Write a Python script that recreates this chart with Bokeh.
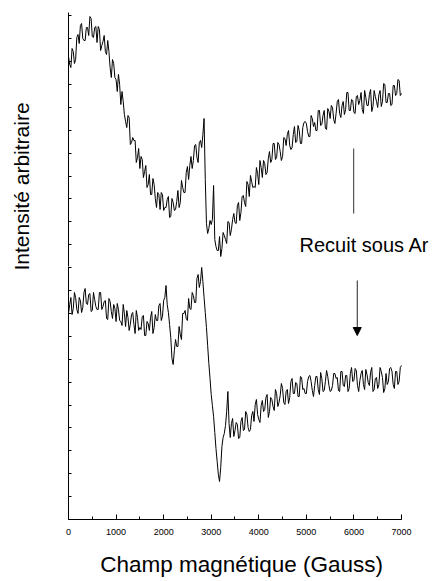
from bokeh.plotting import figure
from bokeh.models import (Label, Arrow, NormalHead, ColumnDataSource, FixedTicker, Range1d,
                          Title, LinearAxis)
from bokeh.embed import file_html
from bokeh.resources import INLINE

# Magnetic field (Gauss): samples on the 50 G grid and in between (25 G offset)
field_a = list(range(0, 7001, 50))
field_b = list(range(25, 7000, 50))

# Upper spectrum (arbitrary intensity units)
upper_a = [463, 452, 468, 460, 485, 494, 481, 479, 492, 503,
           483, 492, 477, 490, 474, 484, 465, 468, 442, 456,
           440, 445, 415, 418, 398, 404, 375, 382, 379, 362,
           351, 360, 348, 332, 345, 325, 335, 312, 325, 327,
           309, 312, 323, 303, 317, 310, 329, 317, 332, 327,
           353, 354, 351, 374, 362, 377, 372, 401, 296, 291,
           295, 334, 273, 269, 263, 287, 280, 298, 284, 300,
           297, 314, 299, 323, 317, 338, 323, 338, 333, 352,
           335, 352, 359, 345, 361, 357, 376, 360, 377, 368,
           363, 381, 385, 374, 372, 393, 378, 389, 376, 397,
           396, 383, 404, 393, 389, 409, 394, 404, 391, 411,
           401, 412, 396, 418, 406, 414, 405, 427, 409, 420,
           407, 423, 415, 427, 406, 422, 414, 430, 413, 423,
           412, 429, 418, 435, 417, 426, 415, 434, 426, 439,
           426]
upper_b = [455, 471, 456, 482, 476, 496, 479, 492, 484, 501,
           482, 493, 493, 469, 478, 468, 479, 452, 460, 442,
           428, 435, 428, 405, 392, 402, 377, 379, 357, 371,
           363, 342, 354, 335, 325, 341, 321, 327, 310, 325,
           312, 320, 302, 321, 309, 318, 312, 339, 327, 347,
           340, 363, 359, 375, 357, 379, 385, 340, 286, 299,
           300, 280, 269, 283, 271, 284, 276, 297, 290, 306,
           296, 317, 307, 324, 313, 335, 344, 332, 332, 346,
           359, 342, 356, 347, 368, 360, 376, 362, 375, 359,
           382, 374, 389, 370, 385, 377, 394, 376, 392, 398,
           388, 383, 401, 397, 389, 409, 395, 409, 390, 408,
           414, 400, 406, 420, 402, 418, 410, 427, 409, 419,
           406, 424, 419, 410, 429, 414, 425, 408, 429, 418,
           425, 413, 436, 417, 426, 414, 434, 424, 440, 424]

# Lower spectrum (after annealing under Ar)
lower_a = [206, 222, 211, 222, 206, 219, 212, 231, 215, 226,
           209, 220, 210, 227, 210, 218, 201, 221, 208, 215,
           198, 210, 198, 215, 193, 202, 195, 207, 186, 202,
           192, 203, 184, 198, 189, 208, 192, 199, 214, 199,
           219, 234, 207, 182, 155, 180, 173, 185, 206, 209,
           199, 211, 227, 217, 241, 232, 252, 222, 192, 156,
           125, 103, 71, 45, 52, 82, 94, 128, 82, 101,
           89, 95, 82, 102, 90, 105, 88, 104, 98, 120,
           100, 114, 108, 122, 102, 122, 113, 130, 113, 124,
           131, 115, 130, 122, 141, 126, 136, 123, 142, 131,
           126, 143, 138, 123, 143, 130, 147, 128, 138, 143,
           128, 134, 146, 142, 128, 148, 133, 144, 131, 152,
           139, 149, 128, 146, 135, 150, 137, 147, 128, 141,
           131, 152, 142, 131, 135, 151, 148, 131, 148, 138,
           154]
lower_b = [215, 205, 227, 210, 222, 207, 227, 216, 225, 208,
           227, 213, 210, 227, 213, 219, 200, 218, 201, 211,
           216, 199, 194, 206, 209, 189, 205, 195, 209, 189,
           190, 204, 184, 196, 202, 186, 205, 199, 216, 203,
           222, 215, 195, 161, 169, 173, 193, 180, 206, 201,
           221, 210, 224, 217, 245, 238, 238, 207, 174, 141,
           114, 87, 58, 38, 73, 86, 108, 96, 96, 83,
           97, 81, 98, 89, 108, 92, 90, 108, 115, 105,
           97, 119, 110, 125, 108, 120, 109, 126, 117, 136,
           117, 128, 116, 138, 126, 137, 123, 143, 130, 126,
           138, 144, 129, 134, 143, 125, 141, 129, 149, 134,
           129, 146, 141, 129, 148, 134, 144, 128, 146, 138,
           151, 134, 139, 149, 130, 145, 134, 152, 130, 142,
           135, 148, 127, 146, 138, 152, 135, 148, 135, 152]

x_ticks = [0, 1000, 2000, 3000, 4000, 5000, 6000, 7000]
annotation_text = "Recuit sous Ar"


def merge(xa, ya, xb, yb):
    pts = sorted(list(zip(xa, ya)) + list(zip(xb, yb)))
    return [q[0] for q in pts], [q[1] for q in pts]


fx_u, fy_u = merge(field_a, upper_a, field_b, upper_b)
fx_l, fy_l = merge(field_a, lower_a, field_b, lower_b)

FONT = "Liberation Sans"

p = figure(frame_width=365, frame_height=507, output_backend="svg", toolbar_location=None,
           x_range=Range1d(0, 7672.7), y_range=Range1d(0, 507),
           min_border_left=68, min_border_right=0, min_border_top=12, min_border_bottom=54)
p.outline_line_color = None
p.xgrid.visible = False
p.ygrid.visible = False
p.background_fill_color = "white"
p.border_fill_color = "white"

p.line(fx_u, fy_u, line_color="black", line_width=1)
p.line(fx_l, fy_l, line_color="black", line_width=1)

# x axis
p.xaxis.bounds = (0, 7000)
p.xaxis.ticker = FixedTicker(ticks=x_ticks, minor_ticks=[500 * k for k in range(15)])
p.xaxis.axis_line_color = "black"
p.xaxis.major_tick_in = 5
p.xaxis.major_tick_out = 0
p.xaxis.minor_tick_in = 3
p.xaxis.minor_tick_out = 0
p.xaxis.major_label_text_font = FONT
p.xaxis.major_label_text_font_size = "9px"
p.xaxis.major_label_text_color = "black"
p.xaxis.major_label_standoff = 9
# trailing no-break spaces shift the centred label a little to the left
p.xaxis.axis_label = "Champ magnétique (Gauss)\u00a0\u00a0\u00a0"
p.xaxis.axis_label_text_font = FONT
p.xaxis.axis_label_text_font_style = "normal"
p.xaxis.axis_label_text_font_size = "22.5px"
p.xaxis.axis_label_text_color = "black"
p.xaxis.axis_label_standoff = 14

# y axis: inward ticks, no labels
y_tick_pos = [round(22.9 * k, 1) for k in range(1, 23)]
p.yaxis.ticker = FixedTicker(ticks=y_tick_pos, minor_ticks=[])
p.yaxis.axis_line_color = "black"
p.yaxis.major_tick_in = 3
p.yaxis.major_tick_out = 0
p.yaxis.major_label_overrides = {t: "" for t in y_tick_pos}
p.yaxis.minor_tick_line_color = None

# blank spacer axis (white tick on white) keeping the y title away from the frame
spacer_tick = [253.5]
spacer = LinearAxis(ticker=FixedTicker(ticks=spacer_tick, minor_ticks=[]),
                    axis_line_color=None, major_tick_in=0, major_tick_out=36,
                    major_tick_line_color="white", minor_tick_line_color=None,
                    major_label_standoff=0, major_label_overrides={spacer_tick[0]: ""})
p.add_layout(spacer, "left")

# y label as a left title, anchored from the bottom of the frame
p.add_layout(Title(text="Intensité arbitraire", align="left", offset=249, standoff=0,
                   text_font=FONT, text_font_size="21px", text_font_style="normal",
                   text_color="black"), "left")

# annotation
p.add_layout(Label(x=4856, y=275, text=annotation_text, text_align="left",
                   text_baseline="alphabetic", text_font=FONT,
                   text_font_size="20px", text_color="black"))
seg_src = ColumnDataSource(dict(x0=[5995], y0=[371], x1=[5995], y1=[306]))
p.segment(x0="x0", y0="y0", x1="x1", y1="y1", source=seg_src, line_color="#333333", line_width=1)
p.add_layout(Arrow(end=NormalHead(size=8, fill_color="black", line_color="black"),
                   x_start=6070, y_start=239, x_end=6070, y_end=184,
                   line_color="#222222", line_width=1))

open("out.html", "w").write(file_html(p, INLINE))
